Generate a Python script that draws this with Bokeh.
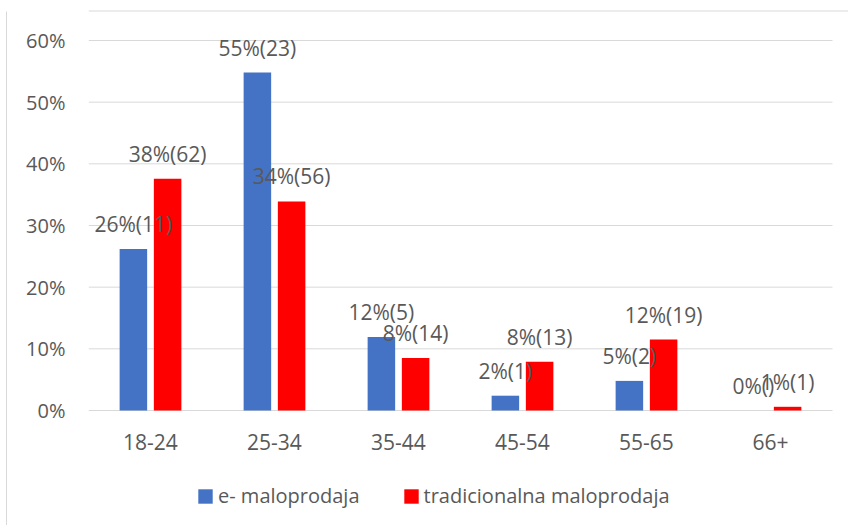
from bokeh.plotting import figure
from bokeh.models import (ColumnDataSource, Range1d, FixedTicker, LabelSet, LinearAxis,
                          Legend, LegendItem, Span)
from bokeh.core.properties import value
from bokeh.embed import file_html
from bokeh.resources import INLINE

# ---- data ----
categories = ["18-24", "25-34", "35-44", "45-54", "55-65", "66+"]
e_pct = [26.2, 54.8, 11.9, 2.4, 4.8, 0.0]
e_cnt = ["11", "23", "5", "1", "2", ""]
t_pct = [37.6, 33.9, 8.5, 7.9, 11.5, 0.6]
t_cnt = ["62", "56", "14", "13", "19", "1"]
series_names = ["e- maloprodaja", "tradicionalna maloprodaja"]
y_ticks = [0, 10, 20, 30, 40, 50, 60]

FONT = "Open Sans"
TXT = "#595959"
BLUE = "#4472C4"
RED = "#FF0000"
GRID = "#D9D9D9"

off = 0.138   # half distance between the two bars of a group (category units)
w = 0.222     # bar width (category units)

xi = list(range(len(categories)))
src = ColumnDataSource(dict(
    x=xi,
    xe=[i - off for i in xi],
    xt=[i + off for i in xi],
    cat=categories,
    e=e_pct,
    t=t_pct,
    e_lab=[f"{round(v)}%({c})" for v, c in zip(e_pct, e_cnt)],
    t_lab=[f"{round(v)}%({c})" for v, c in zip(t_pct, t_cnt)],
))

# pixel scale: 124 px per category, 370 px for 60 %
px_cat = 124.0
px_pct = 370.0 / 60.0
x_start = -0.5
x_end = len(categories) - 0.5 + 16 / px_cat
y_start = -115 / px_pct
y_end = 60 + 40 / px_pct

p = figure(width=848, height=525, x_range=Range1d(x_start, x_end), y_range=Range1d(y_start, y_end),
           output_backend="svg", toolbar_location=None, x_axis_location=None,
           min_border_left=88, min_border_right=0, min_border_top=0, min_border_bottom=0)
p.outline_line_color = None
p.background_fill_color = "white"
p.border_fill_color = "white"
p.xgrid.grid_line_color = None
p.ygrid.grid_line_color = None

# horizontal gridlines spanning the category area
p.segment(x0=[x_start] * len(y_ticks), x1=[len(categories) - 0.5] * len(y_ticks),
          y0=y_ticks, y1=y_ticks, line_color=GRID, line_width=1)

rb = p.vbar(x="xe", top="e", width=w, source=src, fill_color=BLUE, line_color=None)
rr = p.vbar(x="xt", top="t", width=w, source=src, fill_color=RED, line_color=None)

for xc, col, lab in (("xe", "e", "e_lab"), ("xt", "t", "t_lab")):
    p.add_layout(LabelSet(x=xc, y=col, text=lab, source=src,
                          text_align="center", text_baseline="alphabetic", y_offset=17,
                          text_font=value(FONT), text_font_size="21px", text_color=TXT))

# category labels under the 0 line
p.add_layout(LabelSet(x="x", y=0, text="cat", source=src,
                      text_align="center", text_baseline="alphabetic", y_offset=-39,
                      text_font=value(FONT), text_font_size="21px", text_color=TXT))

# y axis (real axis)
ya = p.yaxis[0]
ya.ticker = FixedTicker(ticks=y_ticks)
ya.major_label_overrides = {v: f"{v}%" for v in y_ticks}
ya.axis_line_color = None
ya.major_tick_line_color = None
ya.minor_tick_line_color = None
ya.major_tick_in = 0
ya.major_tick_out = 0
ya.major_label_standoff = 23
ya.major_label_text_font = FONT
ya.major_label_text_font_size = "20px"
ya.major_label_text_color = TXT
ya.axis_label = " "
ya.axis_label_text_font_size = "1px"
ya.axis_label_standoff = 12

# outer chart border (left line) as an unlabelled axis line, top line as a span
border_top = 60 + (40 - 10.5) / px_pct
yb = LinearAxis(ticker=FixedTicker(ticks=[]), axis_line_color=GRID, axis_line_width=1,
                major_tick_line_color=None, minor_tick_line_color=None,
                major_tick_in=0, major_tick_out=0, major_label_text_font_size="0px",
                bounds=(y_start, border_top))
p.add_layout(yb, "left")
p.add_layout(Span(location=border_top, dimension="width", line_color=GRID, line_width=1))

legend = Legend(items=[LegendItem(label=series_names[0], renderers=[rb]),
                       LegendItem(label=series_names[1], renderers=[rr])],
                location=(108, 16), orientation="horizontal",
                glyph_width=18, glyph_height=18, label_standoff=4, spacing=42,
                padding=0, margin=0, border_line_color=None, background_fill_alpha=0,
                label_text_font=FONT, label_text_font_size="20px", label_text_color=TXT)
p.add_layout(legend, "center")

open("out.html", "w").write(file_html(p, INLINE))
